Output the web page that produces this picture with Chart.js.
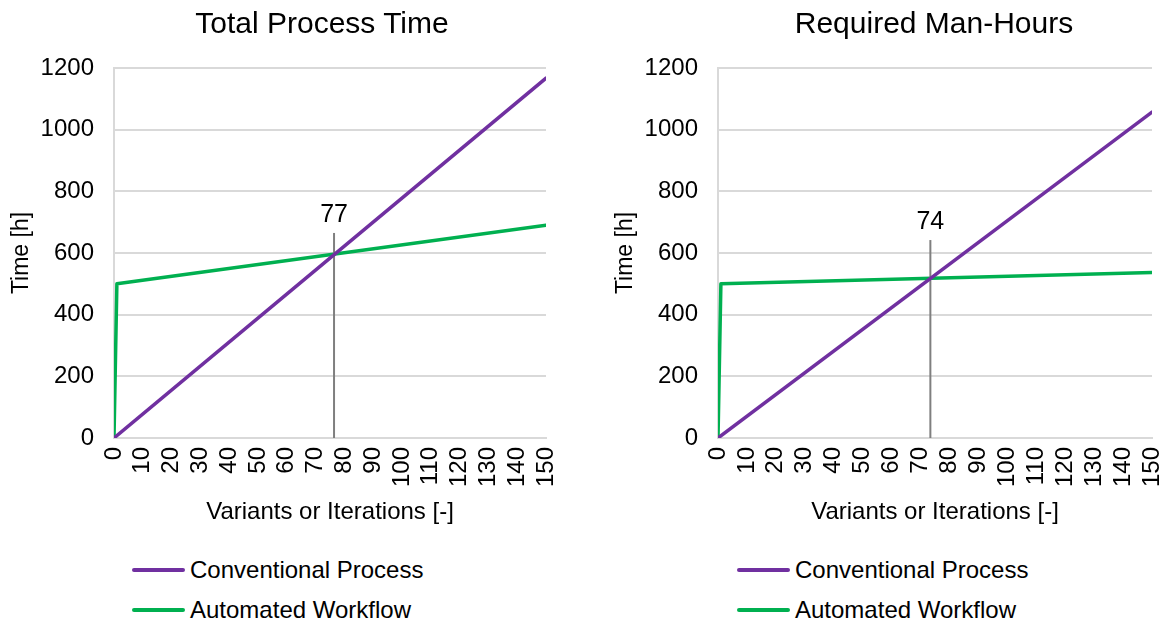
<!DOCTYPE html>
<html>
<head>
<meta charset="utf-8">
<script src="https://cdn.jsdelivr.net/npm/chart.js@4.4.1/dist/chart.umd.min.js"></script>
<style>
body { margin: 0; background: #fff; font-family: "Liberation Sans", Arial, sans-serif; overflow: hidden; }
#wrap { position: relative; width: 1167px; height: 625px; overflow: hidden; }
canvas { position: absolute; top: 0; }
.title { position: absolute; top: 5px; font-size: 30px; line-height: 36px; color: #000; white-space: nowrap; transform: translateX(-50%); }
.legend { position: absolute; top: 0; font-size: 24px; color: #000; }
.item { position: absolute; left: 0; height: 30px; display: flex; align-items: center; white-space: nowrap; }
.swatch { width: 53px; height: 4px; border-radius: 2px; margin-right: 5px; }
</style>
</head>
<body>
<div id="wrap">
  <canvas id="left" width="560" height="540" style="left:0px"></canvas>
  <canvas id="right" width="562" height="540" style="left:604px"></canvas>
  <div class="title" id="titleLeft" style="left:322px"></div>
  <div class="title" id="titleRight" style="left:934px"></div>
  <div class="legend" id="legLeft" style="left:132px"></div>
  <div class="legend" id="legRight" style="left:737px"></div>
</div>
<script>
// data
const xTicks = [0, 10, 20, 30, 40, 50, 60, 70, 80, 90, 100, 110, 120, 130, 140, 150];
const yTicks = [0, 200, 400, 600, 800, 1000, 1200];
const seriesNames = ["Conventional Process", "Automated Workflow"];
const seriesColors = ["#7030A0", "#00B050"];

const convX = [0, 150];
const autoX = [0, 1, 150];

const totalConv = [0, 1167];
const totalAuto = [0, 500, 690];
const totalBreakX = 76.4;
const totalBreakTop = 665;
const totalBreakLabel = "77";

const manConv = [0, 1057];
const manAuto = [0, 500, 537];
const manBreakX = 73.4;
const manBreakTop = 642;
const manBreakLabel = "74";

const FONT = '"Liberation Sans", Arial, sans-serif';

const breakLabel = {
  id: 'breakLabel',
  afterDatasetsDraw(chart, args, opts) {
    const ctx = chart.ctx;
    const px = chart.scales.x.getPixelForValue(opts.x);
    const py = chart.scales.y.getPixelForValue(opts.top);
    ctx.save();
    ctx.font = '25px ' + FONT;
    ctx.fillStyle = '#000';
    ctx.textAlign = 'center';
    ctx.textBaseline = 'alphabetic';
    ctx.fillText(opts.text, px, py - 11);
    ctx.restore();
  }
};

function toPoints(xs, ys) {
  return xs.map((x, i) => ({ x: x, y: ys[i] }));
}

function makeChart(id, conv, auto, bx, btop, blabel) {
  return new Chart(document.getElementById(id), {
    type: 'line',
    data: {
      datasets: [{
        label: seriesNames[0],
        data: toPoints(convX, conv),
        borderColor: seriesColors[0],
        borderWidth: 3.5,
        borderCapStyle: 'round',
        pointRadius: 0
      }, {
        label: 'break',
        data: [{ x: bx, y: 0 }, { x: bx, y: btop }],
        borderColor: '#7f7f7f',
        borderWidth: 2,
        pointRadius: 0
      }, {
        label: seriesNames[1],
        data: toPoints(autoX, auto),
        borderColor: seriesColors[1],
        borderWidth: 3.5,
        borderCapStyle: 'round',
        borderJoinStyle: 'round',
        pointRadius: 0
      }]
    },
    options: {
      responsive: false,
      animation: false,
      layout: { padding: { left: 0, right: 14, top: 68, bottom: 0 } },
      plugins: {
        legend: { display: false },
        tooltip: { enabled: false },
        title: { display: false },
        breakLabel: { x: bx, top: btop, text: blabel }
      },
      scales: {
        x: {
          type: 'linear',
          min: 0,
          max: 150,
          afterBuildTicks: s => { s.ticks = xTicks.map(v => ({ value: v })); },
          afterFit: s => { s.height = 102; s.paddingRight = 0; s.paddingLeft = 0; },
          grid: { display: false, drawTicks: false },
          border: { display: true, color: '#d9d9d9', width: 2 },
          ticks: {
            autoSkip: false, minRotation: 90, maxRotation: 90, padding: 9,
            color: '#000', font: { family: FONT, size: 24 },
            callback: v => String(v)
          },
          title: {
            display: true, text: 'Variants or Iterations [-]', color: '#000',
            font: { family: FONT, size: 24 }, padding: { top: 0, bottom: 13 }
          }
        },
        y: {
          min: 0,
          max: 1200,
          afterBuildTicks: s => { s.ticks = yTicks.map(v => ({ value: v })); },
          afterFit: s => { s.width = 114; s.paddingTop = 0; s.paddingBottom = 0; },
          grid: { color: '#d9d9d9', lineWidth: 2, drawTicks: false },
          border: { display: true, color: '#d9d9d9', width: 2 },
          ticks: {
            padding: 20, color: '#000', font: { family: FONT, size: 24 },
            callback: v => String(v)
          },
          title: {
            display: true, text: 'Time [h]', color: '#000',
            font: { family: FONT, size: 23 }, padding: { top: 8, bottom: 0 }
          }
        }
      }
    },
    plugins: [breakLabel]
  });
}

function makeLegend(id) {
  const el = document.getElementById(id);
  const tops = [555, 595];
  seriesNames.forEach((name, i) => {
    const item = document.createElement('div');
    item.className = 'item';
    item.style.top = tops[i] + 'px';
    const sw = document.createElement('span');
    sw.className = 'swatch';
    sw.style.background = seriesColors[i];
    const txt = document.createElement('span');
    txt.textContent = name;
    item.appendChild(sw);
    item.appendChild(txt);
    el.appendChild(item);
  });
}

document.getElementById('titleLeft').textContent = 'Total Process Time';
document.getElementById('titleRight').textContent = 'Required Man-Hours';
makeChart('left', totalConv, totalAuto, totalBreakX, totalBreakTop, totalBreakLabel);
makeChart('right', manConv, manAuto, manBreakX, manBreakTop, manBreakLabel);
makeLegend('legLeft');
makeLegend('legRight');
</script>
</body>
</html>
